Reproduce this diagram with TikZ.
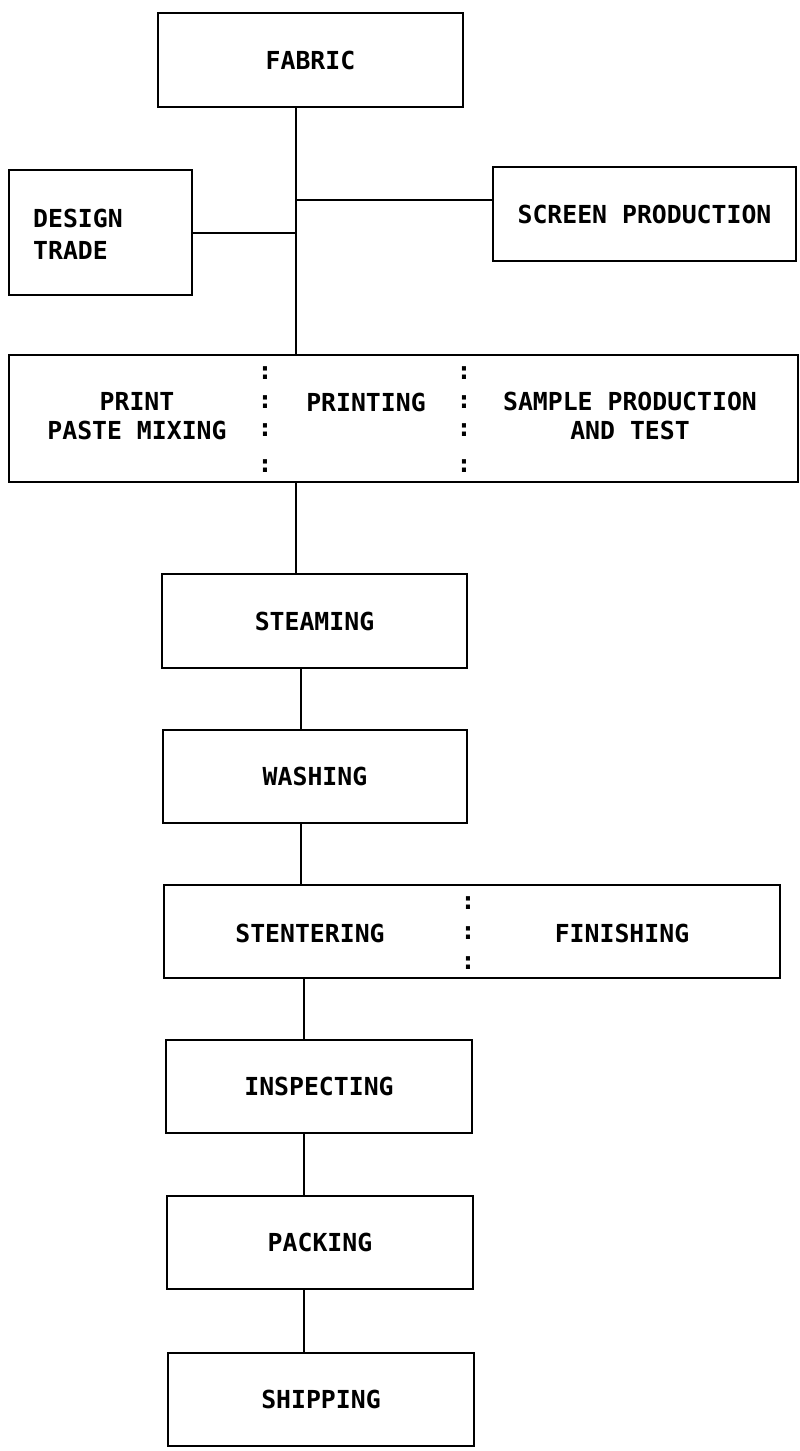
\documentclass[tikz,border=0pt]{standalone}
\usepackage{fontspec}
\setmonofont{DejaVu Sans Mono}
\begin{document}
\begin{tikzpicture}[x=1pt,y=-1pt,
  box/.style={draw, line width=2pt, minimum width=305pt, minimum height=94pt, inner sep=0pt, font=\ttfamily\bfseries\fontsize{24.8}{30}\selectfont},
  lbl/.style={inner sep=0pt, font=\ttfamily\bfseries\fontsize{24.8}{29}\selectfont, align=center},
  conn/.style={line width=2pt}]
\useasboundingbox (0,0) rectangle (800,1451);
% boxes
\node[box] (fabric) at (310.5,60) {FABRIC};
\node[box, minimum width=183pt, minimum height=125pt] (design) at (100.5,232.5) {};
\node[lbl, anchor=west, align=left, font=\ttfamily\bfseries\fontsize{24.8}{32}\selectfont] (designtxt) at (33,234) {DESIGN\\TRADE};
\node[box, minimum width=303pt] (screen) at (644.5,214) {SCREEN PRODUCTION};
\node[box, minimum width=789pt, minimum height=127pt] (big) at (403.5,418.5) {};
\node[lbl] (paste) at (137,416) {PRINT\\PASTE MIXING};
\node[lbl] (printing) at (366,402) {PRINTING};
\node[lbl] (sample) at (630,416) {SAMPLE PRODUCTION\\AND TEST};
\foreach \cx/\nm in {265/a,464/b}{
  \foreach \cy/\k in {373/1,402/2,430/3,466/4}{
    \node[lbl] (col\nm\k) at (\cx,\cy) {:};
  }
}
\node[box] (steaming) at (314.5,621) {STEAMING};
\node[box, minimum width=304pt, minimum height=93pt] (washing) at (315,776.5) {WASHING};
\node[box, minimum width=616pt, minimum height=93pt] (stent) at (472,931.5) {};
\node[lbl] (stenttxt) at (310,933) {STENTERING};
\node[lbl] (finish) at (622,933) {FINISHING};
\foreach \cy/\k in {903/1,933/2,963/3}{
  \node[lbl] (colc\k) at (468,\cy) {:};
}
\node[box, minimum width=306pt, minimum height=93pt] (inspect) at (319,1086.5) {INSPECTING};
\node[box, minimum width=306pt, minimum height=93pt] (packing) at (320,1242.5) {PACKING};
\node[box, minimum width=306pt, minimum height=93pt] (shipping) at (321,1399.5) {SHIPPING};
% connectors
\coordinate (sp) at (296,0);
\coordinate (sq) at (301,0);
\coordinate (sr) at (304,0);
\draw[conn] (fabric.south -| sp) -- (big.north -| sp);
\coordinate (scr) at ([yshift=14pt]screen.west);
\draw[conn] (scr) -- (scr -| sp);
\draw[conn] (design.east) -- (design.east -| sp);
\draw[conn] (big.south -| sp) -- (steaming.north -| sp);
\draw[conn] (steaming.south -| sq) -- (washing.north -| sq);
\draw[conn] (washing.south -| sq) -- (stent.north -| sq);
\draw[conn] (stent.south -| sr) -- (inspect.north -| sr);
\draw[conn] (inspect.south -| sr) -- (packing.north -| sr);
\draw[conn] (packing.south -| sr) -- (shipping.north -| sr);
\end{tikzpicture}
\end{document}
